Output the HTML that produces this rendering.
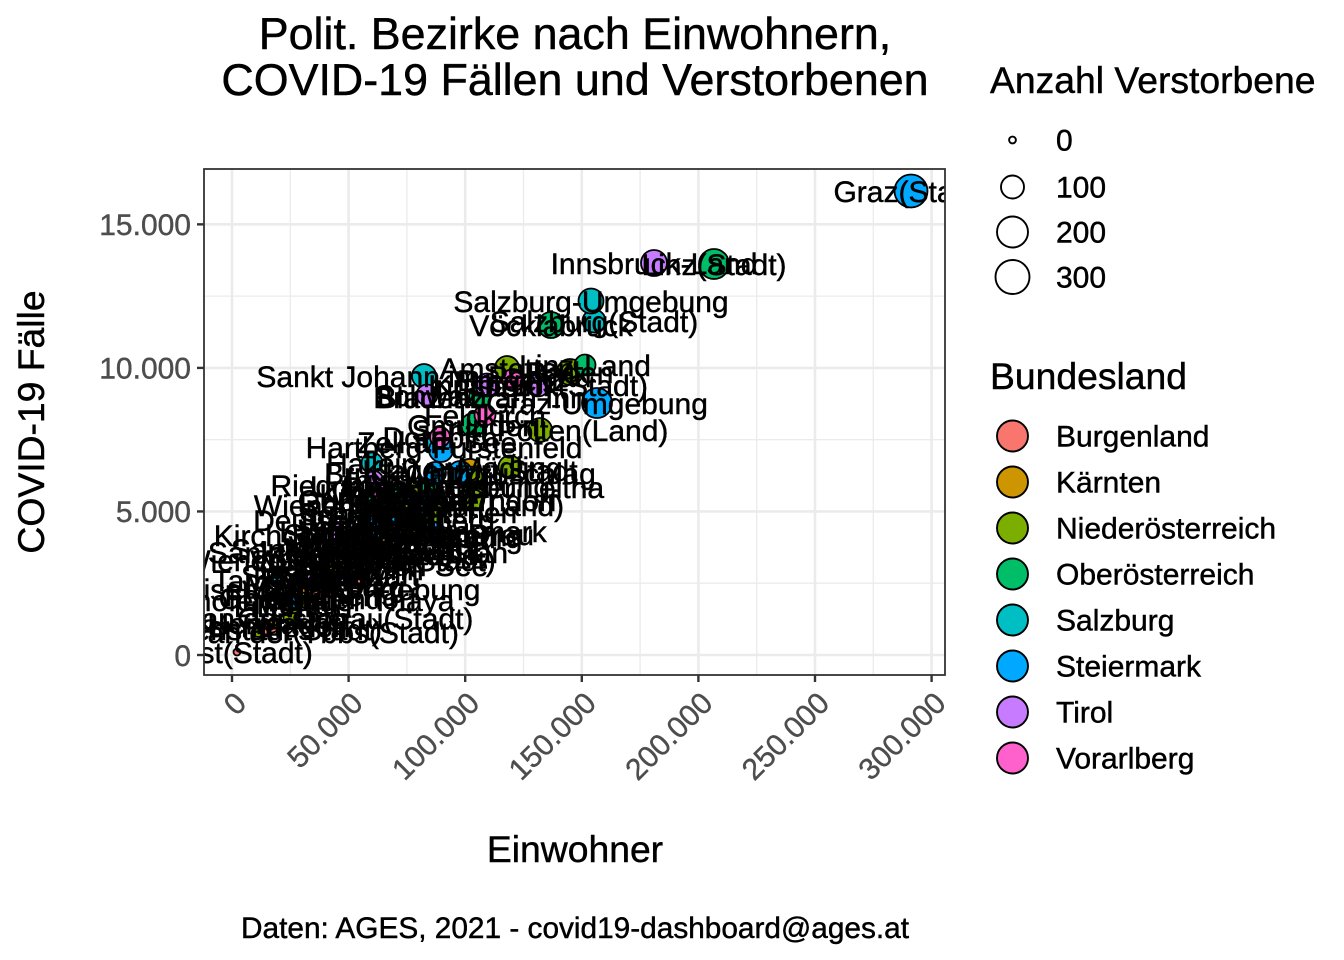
<!DOCTYPE html>
<html>
<head>
<meta charset="utf-8">
<style>
  html, body { margin: 0; padding: 0; background: #ffffff; }
  svg { display: block; }
  text { font-family: "Liberation Sans", Arial, sans-serif; }
  .bk text, text.bk { stroke: #000; stroke-width: 0.45; }
  .gy text { stroke: #4D4D4D; stroke-width: 0.4; }
</style>
</head>
<body>
<svg width="1344" height="960" viewBox="0 0 1344 960" xmlns="http://www.w3.org/2000/svg">
  <rect x="0" y="0" width="1344" height="960" fill="#ffffff"/>
  <defs>
    <clipPath id="panel"><rect x="204" y="169" width="741" height="506"/></clipPath>
  </defs>

  <!-- Title -->
  <g class="bk">
  <text x="575" y="49" font-size="44.8" text-anchor="middle" fill="#000">Polit. Bezirke nach Einwohnern,</text>
  <text x="575" y="95" font-size="44.8" text-anchor="middle" fill="#000">COVID-19 Fällen und Verstorbenen</text>
  </g>

  <!-- Panel background -->
  <rect x="204" y="169" width="741" height="506" fill="#ffffff"/>

  <!-- Minor grid -->
  <g stroke="#EBEBEB" stroke-width="1.3" fill="none">
    <line x1="290.3" y1="169" x2="290.3" y2="675"/>
    <line x1="406.9" y1="169" x2="406.9" y2="675"/>
    <line x1="523.5" y1="169" x2="523.5" y2="675"/>
    <line x1="640.1" y1="169" x2="640.1" y2="675"/>
    <line x1="756.7" y1="169" x2="756.7" y2="675"/>
    <line x1="873.3" y1="169" x2="873.3" y2="675"/>
    <line x1="204" y1="583.2" x2="945" y2="583.2"/>
    <line x1="204" y1="439.7" x2="945" y2="439.7"/>
    <line x1="204" y1="296.1" x2="945" y2="296.1"/>
  </g>
  <!-- Major grid -->
  <g stroke="#EBEBEB" stroke-width="2.6" fill="none">
    <line x1="232" y1="169" x2="232" y2="675"/>
    <line x1="348.6" y1="169" x2="348.6" y2="675"/>
    <line x1="465.2" y1="169" x2="465.2" y2="675"/>
    <line x1="581.8" y1="169" x2="581.8" y2="675"/>
    <line x1="698.4" y1="169" x2="698.4" y2="675"/>
    <line x1="815" y1="169" x2="815" y2="675"/>
    <line x1="931.6" y1="169" x2="931.6" y2="675"/>
    <line x1="204" y1="655" x2="945" y2="655"/>
    <line x1="204" y1="511.45" x2="945" y2="511.45"/>
    <line x1="204" y1="367.9" x2="945" y2="367.9"/>
    <line x1="204" y1="224.35" x2="945" y2="224.35"/>
  </g>

  <!-- Data -->
  <g clip-path="url(#panel)">
    <g stroke="#000" stroke-width="1.8">
      <!-- Burgenland -->
      <circle cx="267" cy="629" r="5.5" fill="#F8766D"/>
      <circle cx="237" cy="652" r="3.5" fill="#F8766D"/>
      <circle cx="332" cy="589" r="7.3" fill="#F8766D"/>
      <circle cx="292" cy="618" r="6.9" fill="#F8766D"/>
      <circle cx="272" cy="626" r="6.5" fill="#F8766D"/>
      <circle cx="325" cy="586" r="7.6" fill="#F8766D"/>
      <circle cx="374" cy="565" r="8.2" fill="#F8766D"/>
      <circle cx="318" cy="598" r="7.3" fill="#F8766D"/>
      <circle cx="358" cy="575" r="8.8" fill="#F8766D"/>
      <!-- Kärnten -->
      <circle cx="274" cy="623" r="5.5" fill="#CD9600"/>
      <circle cx="373" cy="554" r="8.5" fill="#CD9600"/>
      <circle cx="470" cy="470" r="11.2" fill="#CD9600"/>
      <circle cx="358" cy="552" r="9" fill="#CD9600"/>
      <circle cx="409" cy="534" r="9.5" fill="#CD9600"/>
      <circle cx="382" cy="549" r="8.8" fill="#CD9600"/>
      <circle cx="379" cy="543" r="9" fill="#CD9600"/>
      <circle cx="330" cy="560" r="8.2" fill="#CD9600"/>
      <circle cx="356" cy="546" r="9" fill="#CD9600"/>
      <circle cx="302" cy="595" r="6.9" fill="#CD9600"/>
      <!-- Niederösterreich -->
      <circle cx="507" cy="368" r="12" fill="#7CAE00"/>
      <circle cx="570" cy="372" r="13" fill="#7CAE00"/>
      <circle cx="474" cy="487" r="10" fill="#7CAE00"/>
      <circle cx="474" cy="500" r="10.2" fill="#7CAE00"/>
      <circle cx="318" cy="578" r="8" fill="#7CAE00"/>
      <circle cx="351" cy="569" r="8.5" fill="#7CAE00"/>
      <circle cx="304" cy="600" r="7.3" fill="#7CAE00"/>
      <circle cx="444" cy="537" r="9.5" fill="#7CAE00"/>
      <circle cx="290" cy="618" r="6.5" fill="#7CAE00"/>
      <circle cx="365" cy="554" r="8.5" fill="#7CAE00"/>
      <circle cx="293" cy="606" r="7.3" fill="#7CAE00"/>
      <circle cx="414" cy="491" r="10" fill="#7CAE00"/>
      <circle cx="408" cy="534" r="9.5" fill="#7CAE00"/>
      <circle cx="510" cy="467" r="11.5" fill="#7CAE00"/>
      <circle cx="433" cy="512" r="10.4" fill="#7CAE00"/>
      <circle cx="540" cy="430" r="12" fill="#7CAE00"/>
      <circle cx="361" cy="549" r="8.5" fill="#7CAE00"/>
      <circle cx="329" cy="557" r="8.2" fill="#7CAE00"/>
      <circle cx="472" cy="477" r="10.4" fill="#7CAE00"/>
      <circle cx="291" cy="600" r="7" fill="#7CAE00"/>
      <circle cx="258" cy="632" r="5" fill="#7CAE00"/>
      <circle cx="409" cy="505" r="10" fill="#7CAE00"/>
      <circle cx="339" cy="560" r="8.5" fill="#7CAE00"/>
      <circle cx="330" cy="569" r="8.5" fill="#7CAE00"/>
      <!-- Oberösterreich -->
      <circle cx="480" cy="397" r="11" fill="#00BE67"/>
      <circle cx="309" cy="578" r="7" fill="#00BE67"/>
      <circle cx="386" cy="517" r="9" fill="#00BE67"/>
      <circle cx="473" cy="425" r="12" fill="#00BE67"/>
      <circle cx="382" cy="500" r="9.5" fill="#00BE67"/>
      <circle cx="368" cy="535" r="9" fill="#00BE67"/>
      <circle cx="714" cy="264" r="15" fill="#00BE67"/>
      <circle cx="585" cy="365" r="10.5" fill="#00BE67"/>
      <circle cx="392" cy="514" r="9" fill="#00BE67"/>
      <circle cx="378" cy="485" r="9.5" fill="#00BE67"/>
      <circle cx="364" cy="503" r="9" fill="#00BE67"/>
      <circle cx="365" cy="514" r="9" fill="#00BE67"/>
      <circle cx="321" cy="575" r="8" fill="#00BE67"/>
      <circle cx="372" cy="520" r="9.5" fill="#00BE67"/>
      <circle cx="430" cy="486" r="10" fill="#00BE67"/>
      <circle cx="551" cy="325" r="13" fill="#00BE67"/>
      <circle cx="377" cy="532" r="9" fill="#00BE67"/>
      <circle cx="402" cy="494" r="10" fill="#00BE67"/>
      <!-- Salzburg -->
      <circle cx="372" cy="463" r="10.5" fill="#00BFC4"/>
      <circle cx="594" cy="321" r="11.5" fill="#00BFC4"/>
      <circle cx="591" cy="301" r="12.5" fill="#00BFC4"/>
      <circle cx="424" cy="376" r="12" fill="#00BFC4"/>
      <circle cx="276" cy="580" r="6.5" fill="#00BFC4"/>
      <circle cx="437" cy="442" r="11" fill="#00BFC4"/>
      <!-- Steiermark -->
      <circle cx="460" cy="473" r="12" fill="#00A9FF"/>
      <circle cx="374" cy="520" r="9.5" fill="#00A9FF"/>
      <circle cx="911" cy="191" r="16.5" fill="#00A9FF"/>
      <circle cx="597" cy="403" r="15" fill="#00A9FF"/>
      <circle cx="441" cy="450" r="12" fill="#00A9FF"/>
      <circle cx="428" cy="500" r="10.5" fill="#00A9FF"/>
      <circle cx="372" cy="537" r="10" fill="#00A9FF"/>
      <circle cx="419" cy="506" r="10.5" fill="#00A9FF"/>
      <circle cx="296" cy="603" r="7" fill="#00A9FF"/>
      <circle cx="400" cy="517" r="10" fill="#00A9FF"/>
      <circle cx="430" cy="531" r="10.5" fill="#00A9FF"/>
      <circle cx="351" cy="554" r="9" fill="#00A9FF"/>
      <circle cx="435" cy="473" r="11" fill="#00A9FF"/>
      <!-- Tirol -->
      <circle cx="374" cy="480" r="9" fill="#C77CFF"/>
      <circle cx="654" cy="263" r="13" fill="#C77CFF"/>
      <circle cx="538" cy="385" r="11.5" fill="#C77CFF"/>
      <circle cx="381" cy="494" r="9" fill="#C77CFF"/>
      <circle cx="487" cy="385" r="11.5" fill="#C77CFF"/>
      <circle cx="336" cy="531" r="8" fill="#C77CFF"/>
      <circle cx="346" cy="575" r="8" fill="#C77CFF"/>
      <circle cx="309" cy="580" r="7.3" fill="#C77CFF"/>
      <circle cx="427" cy="395" r="10.5" fill="#C77CFF"/>
      <!-- Vorarlberg -->
      <circle cx="381" cy="497" r="9" fill="#FF61CC"/>
      <circle cx="513" cy="380" r="11" fill="#FF61CC"/>
      <circle cx="440" cy="437" r="10" fill="#FF61CC"/>
      <circle cx="485" cy="415" r="10.5" fill="#FF61CC"/>
    </g>

    <g class="bk" font-size="30" text-anchor="middle" fill="#000">
      <!-- Burgenland -->
      <text x="267" y="640">Eisenstadt(Stadt)</text>
      <text x="237" y="663">Rust(Stadt)</text>
      <text x="332" y="600">Eisenstadt-Umgebung</text>
      <text x="292" y="629">Güssing</text>
      <text x="272" y="637">Jennersdorf</text>
      <text x="325" y="597">Mattersburg</text>
      <text x="374" y="576">Neusiedl am See</text>
      <text x="318" y="609">Oberpullendorf</text>
      <text x="358" y="586">Oberwart</text>
      <!-- Kärnten -->
      <text x="274" y="634">Hermagor</text>
      <text x="373" y="565">Klagenfurt Land</text>
      <text x="470" y="481">Klagenfurt Stadt</text>
      <text x="358" y="563">Sankt Veit an der Glan</text>
      <text x="409" y="545">Spittal an der Drau</text>
      <text x="382" y="560">Villach Land</text>
      <text x="379" y="554">Villach Stadt</text>
      <text x="330" y="571">Völkermarkt</text>
      <text x="356" y="557">Wolfsberg</text>
      <text x="302" y="606">Feldkirchen</text>
      <!-- Niederösterreich -->
      <text x="507" y="379">Amstetten</text>
      <text x="570" y="383">Baden</text>
      <text x="474" y="498">Bruck an der Leitha</text>
      <text x="474" y="511">Gänserndorf</text>
      <text x="318" y="589">Gmünd</text>
      <text x="351" y="580">Hollabrunn</text>
      <text x="304" y="611">Horn</text>
      <text x="444" y="548">Korneuburg</text>
      <text x="290" y="629">Krems an der Donau(Stadt)</text>
      <text x="365" y="565">Krems(Land)</text>
      <text x="293" y="617">Lilienfeld</text>
      <text x="414" y="502">Melk</text>
      <text x="408" y="545">Mistelbach</text>
      <text x="510" y="478">Mödling</text>
      <text x="433" y="523">Neunkirchen</text>
      <text x="540" y="441">Sankt Pölten(Land)</text>
      <text x="361" y="560">Sankt Pölten(Stadt)</text>
      <text x="329" y="568">Scheibbs</text>
      <text x="472" y="488">Tulln</text>
      <text x="291" y="611">Waidhofen an der Thaya</text>
      <text x="258" y="643">Waidhofen an der Ybbs(Stadt)</text>
      <text x="409" y="516">Wiener Neustadt(Land)</text>
      <text x="339" y="571">Wiener Neustadt(Stadt)</text>
      <text x="330" y="580">Zwettl</text>
      <!-- Oberösterreich -->
      <text x="480" y="408">Braunau am Inn</text>
      <text x="309" y="589">Eferding</text>
      <text x="386" y="528">Freistadt</text>
      <text x="473" y="436">Gmunden</text>
      <text x="382" y="511">Grieskirchen</text>
      <text x="368" y="546">Kirchdorf an der Krems</text>
      <text x="714" y="275">Linz(Stadt)</text>
      <text x="585" y="376">Linz-Land</text>
      <text x="392" y="525">Perg</text>
      <text x="378" y="496">Ried im Innkreis</text>
      <text x="364" y="514">Rohrbach</text>
      <text x="365" y="525">Schärding</text>
      <text x="321" y="586">Steyr(Stadt)</text>
      <text x="372" y="531">Steyr-Land</text>
      <text x="430" y="497">Urfahr-Umgebung</text>
      <text x="551" y="336">Vöcklabruck</text>
      <text x="377" y="543">Wels(Stadt)</text>
      <text x="402" y="505">Wels-Land</text>
      <!-- Salzburg -->
      <text x="372" y="474">Hallein</text>
      <text x="594" y="332">Salzburg(Stadt)</text>
      <text x="591" y="312">Salzburg-Umgebung</text>
      <text x="424" y="387">Sankt Johann im Pongau</text>
      <text x="276" y="591">Tamsweg</text>
      <text x="437" y="453">Zell am See</text>
      <!-- Steiermark -->
      <text x="460" y="484">Bruck-Mürzzuschlag</text>
      <text x="374" y="531">Deutschlandsberg</text>
      <text x="911" y="202">Graz(Stadt)</text>
      <text x="597" y="414">Graz-Umgebung</text>
      <text x="444" y="458">Hartberg-Fürstenfeld</text>
      <text x="428" y="511">Leibnitz</text>
      <text x="372" y="548">Leoben</text>
      <text x="419" y="517">Liezen</text>
      <text x="296" y="614">Murau</text>
      <text x="400" y="528">Murtal</text>
      <text x="430" y="542">Südoststeiermark</text>
      <text x="351" y="565">Voitsberg</text>
      <text x="435" y="484">Weiz</text>
      <!-- Tirol -->
      <text x="374" y="491">Imst</text>
      <text x="654" y="274">Innsbruck-Land</text>
      <text x="538" y="396">Innsbruck(Stadt)</text>
      <text x="381" y="505">Kitzbühel</text>
      <text x="487" y="396">Kufstein</text>
      <text x="336" y="542">Landeck</text>
      <text x="346" y="586">Lienz</text>
      <text x="309" y="591">Reutte</text>
      <text x="427" y="406">Schwaz</text>
      <!-- Vorarlberg -->
      <text x="431" y="408">Bludenz</text>
      <text x="513" y="391">Bregenz</text>
      <text x="440" y="448">Dornbirn</text>
      <text x="485" y="426">Feldkirch</text>
    </g>
  </g>

  <!-- Panel border -->
  <rect x="204" y="169" width="741" height="506" fill="none" stroke="#333333" stroke-width="1.8"/>

  <!-- Ticks -->
  <g stroke="#333333" stroke-width="2.4">
    <line x1="197" y1="655" x2="204" y2="655"/>
    <line x1="197" y1="511.45" x2="204" y2="511.45"/>
    <line x1="197" y1="367.9" x2="204" y2="367.9"/>
    <line x1="197" y1="224.35" x2="204" y2="224.35"/>
    <line x1="232" y1="675" x2="232" y2="682"/>
    <line x1="348.6" y1="675" x2="348.6" y2="682"/>
    <line x1="465.2" y1="675" x2="465.2" y2="682"/>
    <line x1="581.8" y1="675" x2="581.8" y2="682"/>
    <line x1="698.4" y1="675" x2="698.4" y2="682"/>
    <line x1="815" y1="675" x2="815" y2="682"/>
    <line x1="931.6" y1="675" x2="931.6" y2="682"/>
  </g>

  <!-- Y tick labels -->
  <g class="gy" font-size="30" fill="#4D4D4D" text-anchor="end">
    <text x="191" y="666">0</text>
    <text x="191" y="522.2">5.000</text>
    <text x="191" y="378.6">10.000</text>
    <text x="191" y="235.1">15.000</text>
  </g>

  <!-- X tick labels (rotated 45) -->
  <g class="gy" font-size="30" fill="#4D4D4D" text-anchor="end">
    <text transform="translate(248,705) rotate(-45)">0</text>
    <text transform="translate(364.6,705) rotate(-45)">50.000</text>
    <text transform="translate(481.2,705) rotate(-45)">100.000</text>
    <text transform="translate(597.8,705) rotate(-45)">150.000</text>
    <text transform="translate(714.4,705) rotate(-45)">200.000</text>
    <text transform="translate(831,705) rotate(-45)">250.000</text>
    <text transform="translate(947.6,705) rotate(-45)">300.000</text>
  </g>

  <g class="bk">
  <!-- Axis titles -->
  <text x="575" y="862" font-size="37.3" text-anchor="middle" fill="#000">Einwohner</text>
  <text transform="translate(44,422) rotate(-90)" font-size="37.3" text-anchor="middle" fill="#000">COVID-19 Fälle</text>

  <!-- Caption -->
  <text x="575" y="938" font-size="29.8" text-anchor="middle" fill="#000">Daten: AGES, 2021 - covid19-dashboard@ages.at</text>

  <!-- Legend: size -->
  <text x="990" y="93" font-size="37.3" fill="#000">Anzahl Verstorbene</text>
  </g>
  <g fill="none" stroke="#000" stroke-width="1.9">
    <circle cx="1012.5" cy="140" r="3.4"/>
    <circle cx="1012.5" cy="187" r="11.5"/>
    <circle cx="1012.5" cy="232" r="15.5"/>
    <circle cx="1012.5" cy="277" r="17"/>
  </g>
  <g class="bk" font-size="30" fill="#000">
    <text x="1056" y="150.7">0</text>
    <text x="1056" y="197.7">100</text>
    <text x="1056" y="242.7">200</text>
    <text x="1056" y="287.7">300</text>
  </g>

  <!-- Legend: Bundesland -->
  <text class="bk" x="990" y="389" font-size="37.3" fill="#000">Bundesland</text>
  <g stroke="#000" stroke-width="1.9">
    <circle cx="1012.5" cy="436" r="15.5" fill="#F8766D"/>
    <circle cx="1012.5" cy="482" r="15.5" fill="#CD9600"/>
    <circle cx="1012.5" cy="528" r="15.5" fill="#7CAE00"/>
    <circle cx="1012.5" cy="574" r="15.5" fill="#00BE67"/>
    <circle cx="1012.5" cy="620" r="15.5" fill="#00BFC4"/>
    <circle cx="1012.5" cy="666" r="15.5" fill="#00A9FF"/>
    <circle cx="1012.5" cy="712" r="15.5" fill="#C77CFF"/>
    <circle cx="1012.5" cy="758" r="15.5" fill="#FF61CC"/>
  </g>
  <g class="bk" font-size="30" fill="#000">
    <text x="1056" y="446.7">Burgenland</text>
    <text x="1056" y="492.7">Kärnten</text>
    <text x="1056" y="538.7">Niederösterreich</text>
    <text x="1056" y="584.7">Oberösterreich</text>
    <text x="1056" y="630.7">Salzburg</text>
    <text x="1056" y="676.7">Steiermark</text>
    <text x="1056" y="722.7">Tirol</text>
    <text x="1056" y="768.7">Vorarlberg</text>
  </g>
</svg>
</body>
</html>
